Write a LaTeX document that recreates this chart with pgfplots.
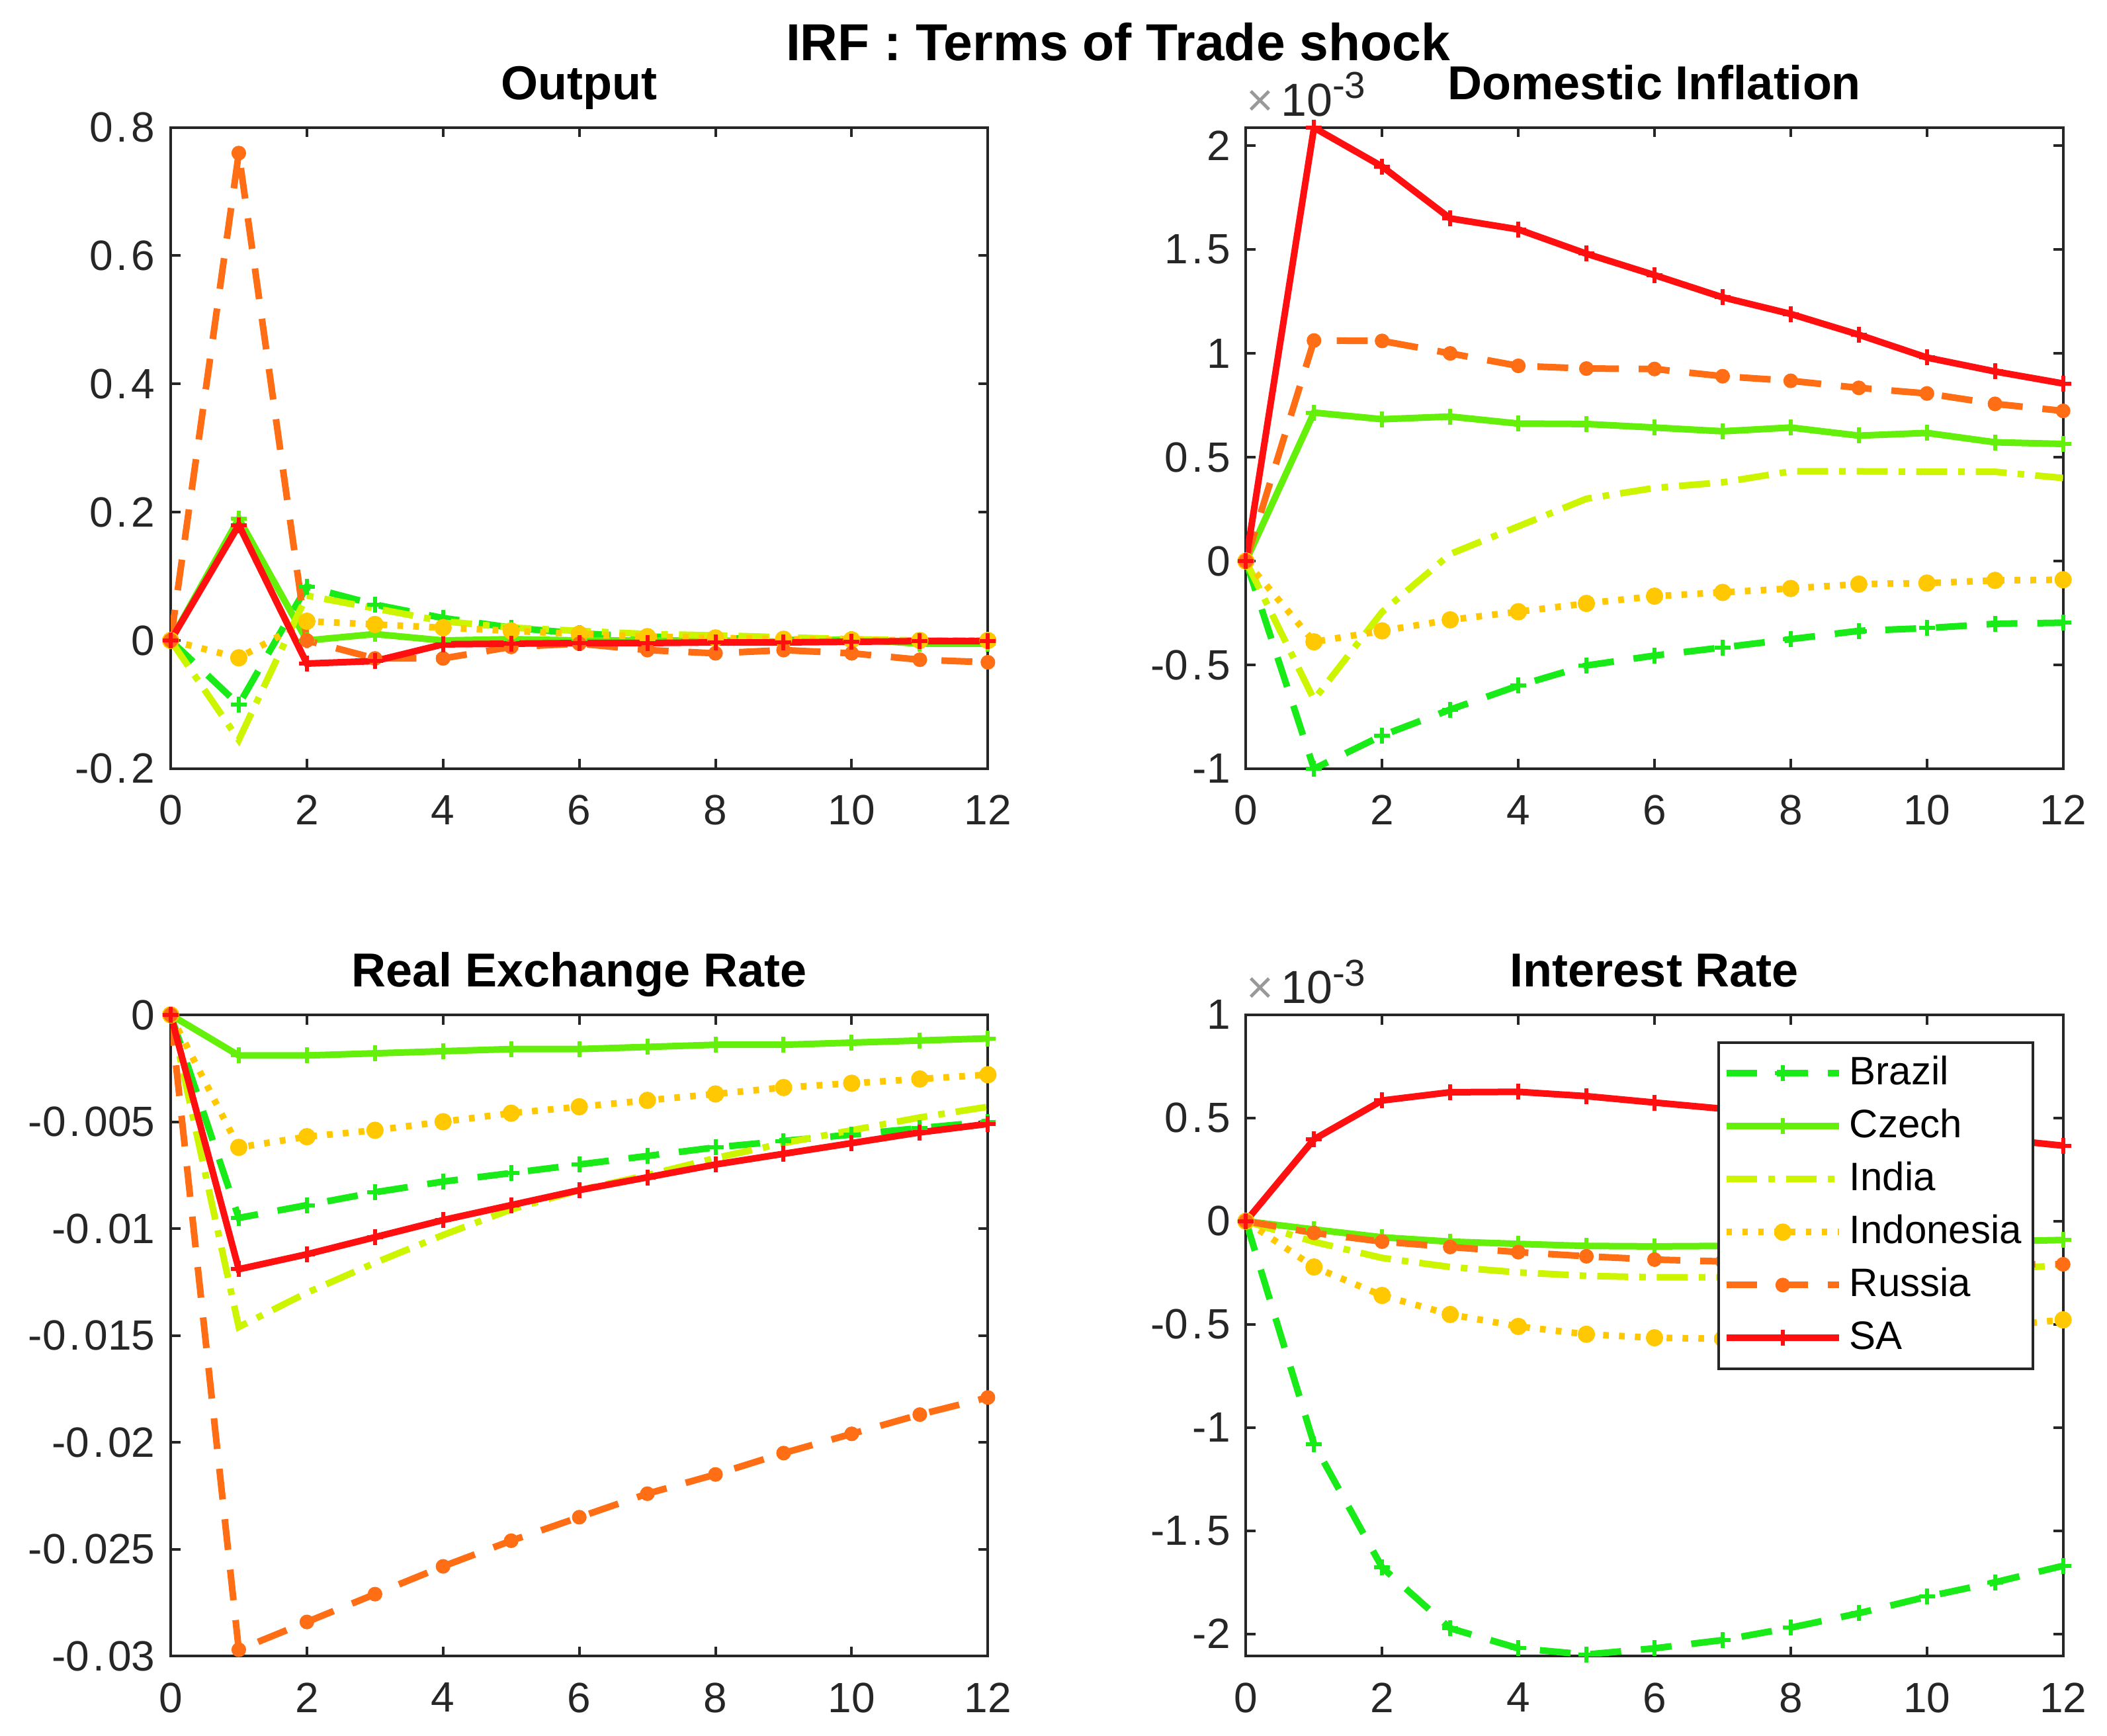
\documentclass[border=0pt]{standalone}
\usepackage{fontspec}
\setmainfont{Liberation Sans}
\usepackage{pgfplots}
\pgfplotsset{compat=1.18}

\definecolor{cBrazil}{RGB}{25,235,25}
\definecolor{cCzech}{RGB}{100,240,10}
\definecolor{cIndia}{RGB}{205,245,0}
\definecolor{cIndo}{RGB}{255,200,0}
\definecolor{cRussia}{RGB}{255,110,20}
\definecolor{cSA}{RGB}{255,15,15}
\definecolor{axgray}{RGB}{38,38,38}

\pgfplotsset{
  irf/.style={
    scale only axis, width=185.3pt, height=145.4pt,
    anchor=south west,
    xmin=0, xmax=12, xtick={0,2,4,6,8,10,12},
    axis line style={axgray, line width=0.6pt},
    tick style={axgray, line width=0.6pt},
    tick align=inside, major tick length=2.2pt,
    ticklabel style={font=\fontsize{9.6}{12}\selectfont, text=axgray},
    xticklabel style={yshift=-2.5pt},
    /pgf/number format/assume math mode=true,
    /pgf/number format/fixed, /pgf/number format/precision=3,
    /pgf/number format/dec sep={\hbox to 4.2pt{\hss.\hss}},
    scaled ticks=false,
    title style={font=\bfseries\fontsize{10.8}{13}\selectfont, at={(0.5,1)}, anchor=base, yshift=0.3pt},
    every axis plot/.append style={line width=1.5pt},
    legend image code/.code={\draw[mark repeat=2,mark phase=2] plot coordinates {(0pt,0pt) (12.8pt,0pt) (25.6pt,0pt)};},
  },
  expo/.style={extra description/.code={\node[anchor=base west, inner sep=0pt, font=\fontsize{10.5}{12}\selectfont, text=axgray, yshift=2.6pt] at (0,1) {{\color{black!40}×}\hspace{1.6pt}10\textsuperscript{\fontsize{8.5}{10}\selectfont -3}};}},
  brazil/.style={cBrazil, dash pattern=on 7pt off 4.5pt, mark=+, mark size=1.8pt, mark options={solid, line width=0.9pt}},
  czech/.style={cCzech, solid, mark=+, mark size=1.8pt, mark options={solid, line width=0.9pt}},
  india/.style={cIndia, dash pattern=on 7pt off 2.5pt on 1.5pt off 2.5pt, no marks},
  indo/.style={cIndo, dash pattern=on 1.3pt off 2.3pt, mark=*, mark size=1.2pt, mark options={solid}},
  russia/.style={cRussia, dash pattern=on 7pt off 4.5pt, mark=*, mark size=0.9pt, mark options={solid}},
  sa/.style={cSA, solid, mark=+, mark size=1.8pt, mark options={solid, line width=0.9pt}},
}

\begin{document}
\begin{tikzpicture}
\useasboundingbox (0,0) rectangle (477.75pt,393.6pt);

\node[font=\bfseries\fontsize{11.8}{14}\selectfont, anchor=base] at (253.5pt,379.9pt) {IRF : Terms of Trade shock};

% ---------------- Output ----------------
\begin{axis}[irf, at={(38.7pt,219.3pt)}, title={Output},
  ymin=-0.2, ymax=0.8, ytick={-0.2,0,0.2,0.4,0.6,0.8}]
\addplot[brazil] coordinates {(0,0) (1,-0.10) (2,0.084) (3,0.056) (4,0.035) (5,0.02) (6,0.011) (7,0.006) (8,0.004) (9,0.001) (10,0) (11,-0.002) (12,-0.002)};
\addplot[czech] coordinates {(0,0) (1,0.19) (2,0.0) (3,0.01) (4,0.0) (5,0.002) (6,0.0) (7,0.0) (8,0.0) (9,-0.002) (10,0.002) (11,-0.005) (12,-0.005)};
\addplot[india] coordinates {(0,0) (1,-0.155) (2,0.07) (3,0.05) (4,0.03) (5,0.02) (6,0.015) (7,0.01) (8,0.008) (9,0.005) (10,0.002) (11,0) (12,0)};
\addplot[indo] coordinates {(0,0) (1,-0.027) (2,0.03) (3,0.025) (4,0.02) (5,0.015) (6,0.01) (7,0.006) (8,0.004) (9,0.002) (10,0.001) (11,0) (12,0)};
\addplot[russia] coordinates {(0,0) (1,0.76) (2,0.0) (3,-0.028) (4,-0.028) (5,-0.01) (6,-0.005) (7,-0.015) (8,-0.02) (9,-0.015) (10,-0.02) (11,-0.03) (12,-0.034)};
\addplot[sa] coordinates {(0,0) (1,0.18) (2,-0.036) (3,-0.032) (4,-0.006) (5,-0.005) (6,-0.004) (7,-0.004) (8,-0.003) (9,-0.003) (10,-0.002) (11,-0.001) (12,-0.001)};
\end{axis}

% ---------------- Domestic Inflation ----------------
\begin{axis}[irf, expo, at={(282.5pt,219.3pt)}, title={Domestic Inflation},
  ymin=-1.0, ymax=2.088, ytick={-1,-0.5,0,0.5,1,1.5,2}]
\addplot[brazil] coordinates {(0,0) (1,-1.0) (2,-0.84) (3,-0.715) (4,-0.60) (5,-0.503) (6,-0.455) (7,-0.416) (8,-0.376) (9,-0.336) (10,-0.323) (11,-0.302) (12,-0.297)};
\addplot[czech] coordinates {(0,0) (1,0.715) (2,0.683) (3,0.696) (4,0.662) (5,0.66) (6,0.643) (7,0.625) (8,0.643) (9,0.604) (10,0.617) (11,0.572) (12,0.564)};
\addplot[india] coordinates {(0,0) (1,-0.667) (2,-0.245) (3,0.034) (4,0.167) (5,0.30) (6,0.352) (7,0.379) (8,0.432) (9,0.432) (10,0.43) (11,0.43) (12,0.40)};
\addplot[indo] coordinates {(0,0) (1,-0.389) (2,-0.336) (3,-0.283) (4,-0.244) (5,-0.204) (6,-0.169) (7,-0.151) (8,-0.132) (9,-0.111) (10,-0.106) (11,-0.093) (12,-0.09)};
\addplot[russia] coordinates {(0,0) (1,1.062) (2,1.06) (3,1.0) (4,0.94) (5,0.927) (6,0.925) (7,0.89) (8,0.868) (9,0.834) (10,0.807) (11,0.757) (12,0.723)};
\addplot[sa] coordinates {(0,0) (1,2.087) (2,1.90) (3,1.65) (4,1.597) (5,1.48) (6,1.377) (7,1.27) (8,1.19) (9,1.09) (10,0.98) (11,0.913) (12,0.855)};
\end{axis}

% ---------------- Real Exchange Rate ----------------
\begin{axis}[irf, at={(38.7pt,18.1pt)}, title={Real Exchange Rate},
  ymin=-0.03, ymax=0, ytick={-0.03,-0.025,-0.02,-0.015,-0.01,-0.005,0}]
\addplot[brazil] coordinates {(0,0) (1,-0.0095) (2,-0.0089) (3,-0.0083) (4,-0.0078) (5,-0.0074) (6,-0.0070) (7,-0.0066) (8,-0.0062) (9,-0.0059) (10,-0.0056) (11,-0.0053) (12,-0.0050)};
\addplot[czech] coordinates {(0,0) (1,-0.0019) (2,-0.0019) (3,-0.0018) (4,-0.0017) (5,-0.0016) (6,-0.0016) (7,-0.0015) (8,-0.0014) (9,-0.0014) (10,-0.0013) (11,-0.0012) (12,-0.0011)};
\addplot[india] coordinates {(0,0) (1,-0.0146) (2,-0.0130) (3,-0.0116) (4,-0.0103) (5,-0.0091) (6,-0.0082) (7,-0.0075) (8,-0.0067) (9,-0.0060) (10,-0.0054) (11,-0.0048) (12,-0.0043)};
\addplot[indo] coordinates {(0,0) (1,-0.0062) (2,-0.0057) (3,-0.0054) (4,-0.0050) (5,-0.0046) (6,-0.0043) (7,-0.0040) (8,-0.0037) (9,-0.0034) (10,-0.0032) (11,-0.0030) (12,-0.0028)};
\addplot[russia] coordinates {(0,0) (1,-0.0297) (2,-0.0284) (3,-0.0271) (4,-0.0258) (5,-0.0246) (6,-0.0235) (7,-0.0224) (8,-0.0215) (9,-0.0205) (10,-0.0196) (11,-0.0187) (12,-0.0179)};
\addplot[sa] coordinates {(0,0) (1,-0.0119) (2,-0.0112) (3,-0.0104) (4,-0.0096) (5,-0.0089) (6,-0.0082) (7,-0.0076) (8,-0.0070) (9,-0.0065) (10,-0.0060) (11,-0.0055) (12,-0.0051)};
\end{axis}

% ---------------- Interest Rate ----------------
\begin{axis}[irf, expo, at={(282.5pt,18.1pt)}, title={Interest Rate},
  ymin=-2.108, ymax=1, ytick={-2,-1.5,-1,-0.5,0,0.5,1},
  legend style={draw=axgray, line width=0.6pt, at={(0.965,0.959)}, anchor=north east,
    font=\fontsize{9}{11}\selectfont, inner xsep=1pt, inner ysep=1pt, row sep=0pt,
    nodes={text=black, inner xsep=1.6pt, inner ysep=1.5pt, text height=7pt, text depth=2pt}},
  legend cell align=left]
\addplot[brazil] coordinates {(0,0) (1,-1.08) (2,-1.678) (3,-1.973) (4,-2.07) (5,-2.10) (6,-2.07) (7,-2.03) (8,-1.97) (9,-1.90) (10,-1.82) (11,-1.75) (12,-1.67)};
\addplot[czech] coordinates {(0,0) (1,-0.04) (2,-0.078) (3,-0.099) (4,-0.11) (5,-0.12) (6,-0.122) (7,-0.12) (8,-0.118) (9,-0.112) (10,-0.105) (11,-0.098) (12,-0.091)};
\addplot[india] coordinates {(0,0) (1,-0.10) (2,-0.178) (3,-0.222) (4,-0.248) (5,-0.265) (6,-0.272) (7,-0.272) (8,-0.268) (9,-0.26) (10,-0.248) (11,-0.232) (12,-0.214)};
\addplot[indo] coordinates {(0,0) (1,-0.222) (2,-0.36) (3,-0.452) (4,-0.51) (5,-0.548) (6,-0.565) (7,-0.57) (8,-0.565) (9,-0.555) (10,-0.54) (11,-0.51) (12,-0.478)};
\addplot[russia] coordinates {(0,0) (1,-0.057) (2,-0.099) (3,-0.125) (4,-0.15) (5,-0.17) (6,-0.186) (7,-0.195) (8,-0.2) (9,-0.203) (10,-0.205) (11,-0.207) (12,-0.209)};
\addplot[sa] coordinates {(0,0) (1,0.397) (2,0.585) (3,0.625) (4,0.627) (5,0.606) (6,0.575) (7,0.545) (8,0.51) (9,0.475) (10,0.435) (11,0.40) (12,0.366)};
\legend{Brazil,Czech,India,Indonesia,Russia,SA}
\end{axis}
\end{tikzpicture}
\end{document}
